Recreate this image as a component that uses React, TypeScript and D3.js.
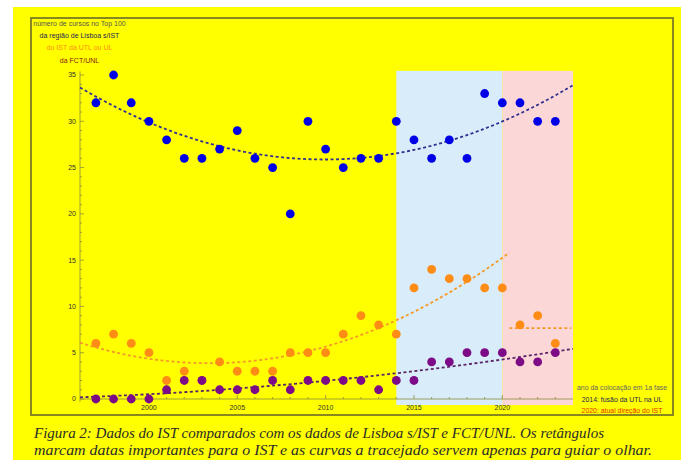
import React from "react";
import * as d3 from "d3";

// anos 1997..2023
const years = d3.range(1997, 2024);
const lisboaSemIST = [32, 35, 32, 30, 28, 26, 26, 27, 29, 26, 25, 20, 30, 27, 25, 26, 26, 30, 28, 26, 28, 26, 33, 32, 32, 30, 30];
const ist = [6, 7, 6, 5, 2, 3, 2, 4, 3, 3, 3, 5, 5, 5, 7, 9, 8, 7, 12, 14, 13, 13, 12, 12, 8, 9, 6];
const fct = [0, 0, 0, 0, 1, 2, 2, 1, 1, 1, 2, 1, 2, 2, 2, 2, 1, 2, 2, 4, 4, 5, 5, 5, 4, 4, 5];

const yTicks = [0, 5, 10, 15, 20, 25, 30, 35];
const xTicks = [2000, 2005, 2010, 2015, 2020];
const periods = [
  { from: 2014, to: 2020, fill: "#d9ecf9" },
  { from: 2020, to: 2024, fill: "#fcd7d8" },
];

// quadratic least squares, used only for the "guide the eye" curves
function quadFit(xs: number[], ys: number[]) {
  const c = 2010;
  const S = [0, 0, 0, 0, 0];
  const T = [0, 0, 0];
  xs.forEach((x0, i) => {
    const x = x0 - c;
    for (let k = 0; k < 5; k++) S[k] += Math.pow(x, k);
    for (let k = 0; k < 3; k++) T[k] += ys[i] * Math.pow(x, k);
  });
  const M = [
    [S[0], S[1], S[2], T[0]],
    [S[1], S[2], S[3], T[1]],
    [S[2], S[3], S[4], T[2]],
  ];
  for (let i = 0; i < 3; i++) {
    for (let j = i + 1; j < 3; j++) {
      const f = M[j][i] / M[i][i];
      for (let k = i; k < 4; k++) M[j][k] -= f * M[i][k];
    }
  }
  const a = [0, 0, 0];
  for (let i = 2; i >= 0; i--) {
    let s = M[i][3];
    for (let k = i + 1; k < 3; k++) s -= M[i][k] * a[k];
    a[i] = s / M[i][i];
  }
  return (x: number) => a[0] + a[1] * (x - c) + a[2] * (x - c) * (x - c);
}

export default function App() {
  const x = d3.scaleLinear().domain([1996.1, 2024]).range([80, 573]);
  const y = d3.scaleLinear().domain([0, 35]).range([399, 75]);

  const line = d3
    .line<number[]>()
    .x((d) => x(d[0]))
    .y((d) => y(d[1]));

  const sample = (f: (v: number) => number, a: number, b: number) =>
    d3.range(0, 61).map((i) => {
      const v = a + ((b - a) * i) / 60;
      return [v, f(v)];
    });

  const fitBlue = quadFit(years, lisboaSemIST);
  const fitPurple = quadFit(years, fct);
  const cut = years.indexOf(2020) + 1;
  const fitOrange = quadFit(years.slice(0, cut), ist.slice(0, cut));
  const orangeMean = d3.mean(ist.slice(cut)) as number;

  const series = [
    { values: lisboaSemIST, color: "#0000e6" },
    { values: ist, color: "#ff8c14" },
    { values: fct, color: "#7d0a86" },
  ];

  const minorY = d3.range(0, 36);
  const minorX = d3.range(1997, 2024);
  const axisColor = "#8c8c3c";
  const font = "'Liberation Sans', Arial, sans-serif";

  return (
    <svg
      width={681}
      height={460}
      style={{ position: "absolute", left: 0, top: 0, background: "#fff" }}
    >
      <rect x={13} y={7} width={668} height={453} fill="#ffff00" />
      <rect x={31} y={18} width={642} height={397} fill="none" stroke="#7c7c22" strokeWidth={1.8} />

      {periods.map((p) => (
        <rect
          key={p.from}
          x={x(p.from)}
          y={y(35.45)}
          width={x(p.to) - x(p.from)}
          height={y(-0.65) - y(35.45)}
          fill={p.fill}
        />
      ))}

      {/* axes */}
      <g stroke={axisColor} strokeWidth={0.8}>
        <line x1={x(1996.1)} x2={x(1996.1)} y1={y(-0.3)} y2={y(35.4)} />
        <line x1={x(1996.1)} x2={x(2024)} y1={y(0)} y2={y(0)} />
        {minorY.map((v) => (
          <line key={"my" + v} x1={x(1996.1)} x2={x(1996.1) + (v % 5 === 0 ? 4 : 2)} y1={y(v)} y2={y(v)} />
        ))}
        {minorX.map((v) => (
          <line key={"mx" + v} x1={x(v)} x2={x(v)} y1={y(0)} y2={y(0) - (v % 5 === 0 ? 4 : 2)} />
        ))}
      </g>
      <g fontFamily={font} fontSize={7} fill="#333">
        {yTicks.map((t) => (
          <text key={t} x={x(1996.1) - 4} y={y(t)} dy="0.35em" textAnchor="end">
            {t}
          </text>
        ))}
        {xTicks.map((t) => (
          <text key={t} x={x(t)} y={y(0) + 11} textAnchor="middle">
            {t}
          </text>
        ))}
      </g>

      {/* guide curves */}
      <g fill="none" strokeWidth={1.8} strokeDasharray="3,2.5">
        <path d={line(sample(fitBlue, 1996.1, 2024)) || ""} stroke="#31318f" />
        <path d={line(sample(fitOrange, 1996.1, 2020.4)) || ""} stroke="#f59a2a" />
        <path d={line([[2020.4, orangeMean], [2023.9, orangeMean]]) || ""} stroke="#f59a2a" />
        <path d={line(sample(fitPurple, 1996.1, 2024)) || ""} stroke="#5a2566" />
      </g>

      {series.map((s, si) => (
        <g key={si} fill={s.color}>
          {s.values.map((v, i) => (
            <circle key={i} cx={x(years[i])} cy={y(v)} r={4.4} />
          ))}
        </g>
      ))}

      {/* legend top left */}
      <g fontFamily={font} fontSize={7} textAnchor="middle">
        <text x={79.5} y={26} fill="#555">número de cursos no Top 100</text>
        <text x={79.5} y={38} fill="#1c1c5a">da região de Lisboa s/IST</text>
        <text x={79.5} y={50} fill="#ff8c14">do IST da UTL ou UL</text>
        <text x={79.5} y={63} fill="#8a1a10">da FCT/UNL</text>
      </g>

      {/* legend bottom right */}
      <g fontFamily={font} fontSize={6.9} textAnchor="middle">
        <text x={622} y={390} fill="#666">ano da colocação em 1a fase</text>
        <text x={622} y={401.5} fill="#1c1c5a">2014: fusão da UTL na UL</text>
        <text x={622} y={413} fill="#e63000">2020: atual direção do IST</text>
      </g>

      {/* caption */}
      <g fontFamily="'Liberation Serif', 'DejaVu Serif', serif" fontStyle="italic" fontSize={15} fill="#2b2b2b">
        <text x={34} y={438} textLength={570} lengthAdjust="spacingAndGlyphs">
          Figura 2: Dados do IST comparados com os dados de Lisboa s/IST e FCT/UNL. Os retângulos
        </text>
        <text x={34} y={455} textLength={618} lengthAdjust="spacingAndGlyphs">
          marcam datas importantes para o IST e as curvas a tracejado servem apenas para guiar o olhar.
        </text>
      </g>
    </svg>
  );
}
